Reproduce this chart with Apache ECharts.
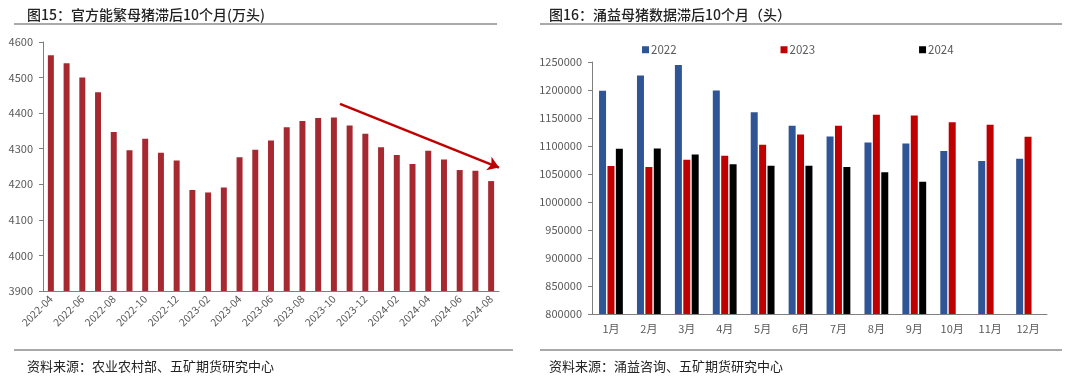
<!DOCTYPE html>
<html><head><meta charset="utf-8">
<script src="https://cdn.jsdelivr.net/npm/echarts@6/dist/echarts.min.js"></script>
<style>html,body{margin:0;padding:0;background:#fff}#c{width:1080px;height:381px}</style>
</head><body><div id="c"></div>
<script>
// ---- Left chart data ----
const leftMonths = ['2022-04','2022-05','2022-06','2022-07','2022-08','2022-09','2022-10','2022-11','2022-12',
  '2023-01','2023-02','2023-03','2023-04','2023-05','2023-06','2023-07','2023-08','2023-09','2023-10','2023-11','2023-12',
  '2024-01','2024-02','2024-03','2024-04','2024-05','2024-06','2024-07','2024-08'];
const leftValues = [4563,4540,4500,4459,4347,4296,4328,4289,4267,4184,4177,4191,4276,4297,4323,
  4360,4378,4386,4388,4365,4342,4304,4282,4257,4294,4270,4240,4238,4209];
const arrowStart = ['2023-10', 4426];
const arrowEnd = ['2024-08', 4247];

// ---- Right chart data ----
const rightMonths = ['1月','2月','3月','4月','5月','6月','7月','8月','9月','10月','11月','12月'];
const y2022 = [1198500,1225800,1244700,1199000,1160400,1136000,1117100,1106400,1104600,1090900,1073100,1077200];
const y2023 = [1064200,1062400,1075400,1082600,1102200,1120700,1136000,1155600,1154500,1142600,1137800,1116600];
const y2024 = [1095000,1095700,1085000,1067200,1064800,1064800,1062400,1053000,1036300,null,null,null];

const titleLeft = '图15：官方能繁母猪滞后10个月(万头)';
const titleRight = '图16：涌益母猪数据滞后10个月（头）';
const sourceLeft = '资料来源：农业农村部、五矿期货研究中心';
const sourceRight = '资料来源：涌益咨询、五矿期货研究中心';

const FONT = '"Noto Sans CJK SC", "Noto Sans", sans-serif';
const axisColor = '#7f7f7f';
const labelColor = '#595959';
const plain = v => String(v);

const chart = echarts.init(document.getElementById('c'), null, {renderer:'canvas'});
chart.setOption({
  animation: false,
  textStyle: {fontFamily: FONT},
  title: [
    {text: titleLeft, left: 22, top: 3, textStyle: {fontSize: 14, fontWeight: 500, color: '#222', fontFamily: FONT}},
    {text: titleRight, left: 544, top: 3, textStyle: {fontSize: 14, fontWeight: 500, color: '#222', fontFamily: FONT}},
    {text: sourceLeft, left: 22, top: 355, textStyle: {fontSize: 13, fontWeight: 'normal', color: '#222', fontFamily: FONT}},
    {text: sourceRight, left: 544, top: 355, textStyle: {fontSize: 13, fontWeight: 'normal', color: '#222', fontFamily: FONT}}
  ],
  graphic: [
    {type: 'line', shape: {x1: 14, y1: 24, x2: 497, y2: 24}, style: {stroke: '#8c8c8c', lineWidth: 1.5}},
    {type: 'line', shape: {x1: 540, y1: 24, x2: 1062, y2: 24}, style: {stroke: '#8c8c8c', lineWidth: 1.5}},
    {type: 'line', shape: {x1: 14, y1: 350, x2: 513, y2: 350}, style: {stroke: '#8c8c8c', lineWidth: 1.5}},
    {type: 'line', shape: {x1: 540, y1: 350, x2: 1062, y2: 350}, style: {stroke: '#8c8c8c', lineWidth: 1.5}}
  ],
  legend: {
    data: ['2022','2023','2024'],
    left: 637, top: 39,
    itemWidth: 7, itemHeight: 7, itemGap: 104,
    icon: 'rect',
    textStyle: {fontSize: 11.5, color: labelColor, padding: [0,0,0,-3]}
  },
  grid: [
    {left: 43, right: 581, top: 42, bottom: 90},
    {left: 592, right: 33, top: 62, bottom: 67}
  ],
  xAxis: [
    {type: 'category', gridIndex: 0, data: leftMonths,
      axisLine: {lineStyle: {color: axisColor}},
      axisTick: {interval: 1, length: 4, lineStyle: {color: axisColor}},
      axisLabel: {interval: 1, rotate: 45, fontSize: 10.5, color: labelColor, margin: 6}},
    {type: 'category', gridIndex: 1, data: rightMonths,
      axisLine: {lineStyle: {color: axisColor}},
      axisTick: {length: 4, lineStyle: {color: axisColor}},
      axisLabel: {fontSize: 11, color: labelColor, margin: 9}}
  ],
  yAxis: [
    {type: 'value', gridIndex: 0, min: 3900, max: 4600, interval: 100,
      axisLine: {show: true, lineStyle: {color: axisColor}},
      axisTick: {show: true, length: 4, lineStyle: {color: axisColor}},
      splitLine: {show: false},
      axisLabel: {fontSize: 11, color: labelColor, margin: 10, formatter: plain}},
    {type: 'value', gridIndex: 1, min: 800000, max: 1250000, interval: 50000,
      axisLine: {show: true, lineStyle: {color: axisColor}},
      axisTick: {show: true, length: 4, lineStyle: {color: axisColor}},
      splitLine: {show: false},
      axisLabel: {fontSize: 11, color: labelColor, margin: 10, formatter: plain}}
  ],
  series: [
    {name: '能繁母猪', type: 'bar', xAxisIndex: 0, yAxisIndex: 0, data: leftValues,
      barWidth: '38%', itemStyle: {color: '#A62830'},
      markLine: {silent: true, symbol: ['none','arrow'], symbolSize: 11,
        label: {show: false},
        emphasis: {disabled: true},
        lineStyle: {color: '#C00000', width: 2.5, type: 'solid'},
        data: [[{coord: arrowStart, x: 340}, {coord: arrowEnd, x: 499}]]}},
    {name: '2022', type: 'bar', xAxisIndex: 1, yAxisIndex: 1, data: y2022,
      barWidth: 7, barGap: '20%', itemStyle: {color: '#2F5597'}},
    {name: '2023', type: 'bar', xAxisIndex: 1, yAxisIndex: 1, data: y2023,
      barWidth: 7, barGap: '20%', itemStyle: {color: '#C00000'}},
    {name: '2024', type: 'bar', xAxisIndex: 1, yAxisIndex: 1, data: y2024,
      barWidth: 7, barGap: '20%', itemStyle: {color: '#000000'}}
  ]
});
</script>
</body></html>
